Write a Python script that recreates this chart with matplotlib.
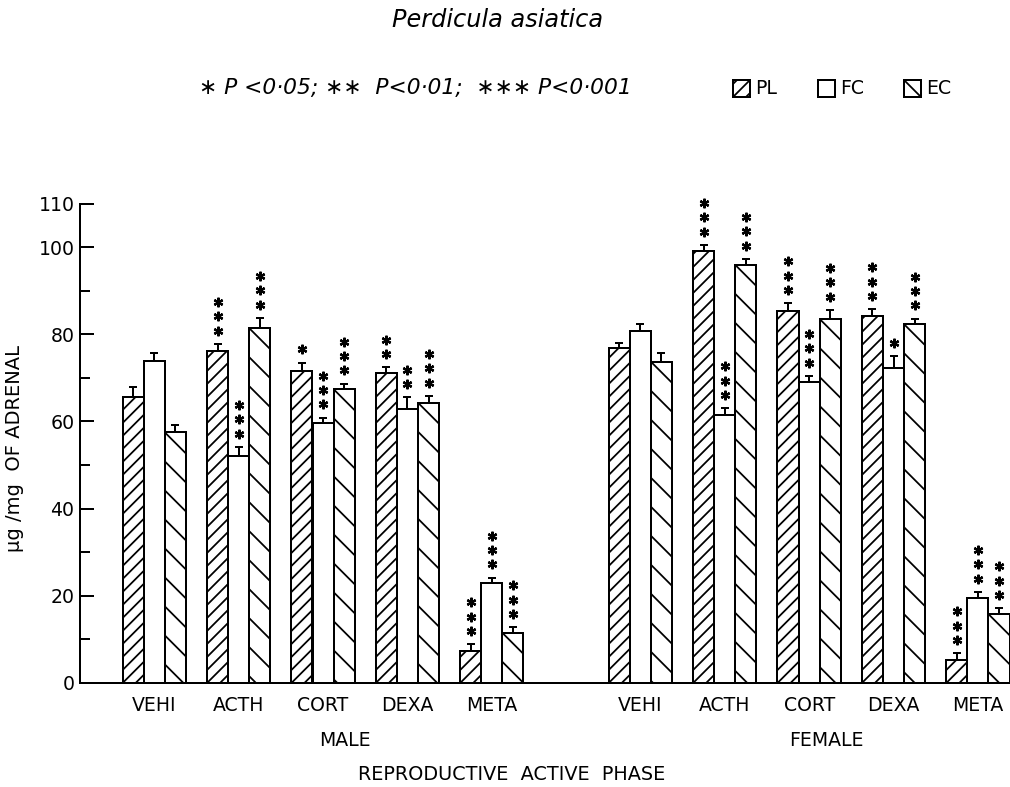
import numpy as np
import matplotlib
matplotlib.use("Agg")
import matplotlib.pyplot as plt
from matplotlib.patches import Rectangle
from matplotlib.transforms import offset_copy, IdentityTransform
from matplotlib.collections import LineCollection

# ---------------- data ----------------
treatments = ["VEHI", "ACTH", "CORT", "DEXA", "META"]
series = ["PL", "FC", "EC"]

male_PL = [65.7, 76.1, 71.6, 71.2, 7.4]
male_FC = [73.9, 52.1, 59.6, 62.8, 22.9]
male_EC = [57.5, 81.4, 67.4, 64.3, 11.5]
male_PL_err = [2.3, 1.7, 1.9, 1.2, 1.5]
male_FC_err = [1.9, 2.1, 1.3, 2.7, 1.3]
male_EC_err = [1.7, 2.4, 1.3, 1.6, 1.3]
male_PL_stars = [0, 3, 1, 2, 3]
male_FC_stars = [0, 3, 3, 2, 3]
male_EC_stars = [0, 3, 3, 3, 3]

female_PL = [76.8, 99.2, 85.4, 84.2, 5.3]
female_FC = [80.7, 61.5, 69.1, 72.2, 19.4]
female_EC = [73.7, 95.9, 83.5, 82.3, 15.8]
female_PL_err = [1.1, 1.3, 1.7, 1.5, 1.5]
female_FC_err = [1.6, 1.5, 1.4, 2.8, 1.5]
female_EC_err = [1.9, 1.4, 2.1, 1.3, 1.3]
female_PL_stars = [0, 3, 3, 3, 3]
female_FC_stars = [0, 3, 3, 1, 3]
female_EC_stars = [0, 3, 3, 3, 3]

yticks_major = [0, 20, 40, 60, 80, 100, 110]
yticks_minor = [10, 30, 50, 70, 90]

# ---------------- figure ----------------
DPI = 160
plt.rcParams["font.family"] = ["DejaVu Sans"]

W, H = 1010, 787
fig = plt.figure(figsize=(W / DPI, H / DPI), dpi=DPI)
ax = fig.add_axes([80 / W, 104 / H, (W - 80) / W, (683 - 203.5) / H])
ax.set_xlim(-0.88, 10.14)
ax.set_ylim(0, 110)

bw = 0.25
male_x = np.arange(5, dtype=float)
female_x = np.arange(5, dtype=float) + 5.76
hatch_kind = ["asc", None, "desc"]
hatch_space = [13.0, None, 29.0]   # vertical spacing of hatch lines, pixels


def add_hatch(patch, kind, spacing, in_axes):
    tr = patch.get_data_transform()
    x, y = patch.get_x(), patch.get_y()
    w, h = patch.get_width(), patch.get_height()
    (X0, Y0), (X1, Y1) = tr.transform([(x, y), (x + w, y + h)])
    segs = []
    if kind == "asc":
        c0 = Y0 - X0
        kmin = int(np.floor(((Y0 - X1) - c0) / spacing)) - 1
        kmax = int(np.ceil(((Y1 - X0) - c0) / spacing)) + 1
        for k in range(kmin, kmax + 1):
            c = c0 + k * spacing
            segs.append([(X0 - 2, X0 - 2 + c), (X1 + 2, X1 + 2 + c)])
    else:
        c0 = Y1 + X0
        kmin = int(np.floor(((Y0 + X0) - c0) / spacing)) - 1
        kmax = int(np.ceil(((Y1 + X1) - c0) / spacing)) + 1
        for k in range(kmin, kmax + 1):
            c = c0 + k * spacing
            segs.append([(X0 - 2, c - (X0 - 2)), (X1 + 2, c - (X1 + 2))])
    lc = LineCollection(segs, colors="black", linewidths=0.8,
                        transform=IdentityTransform(), zorder=patch.get_zorder() + 0.1)
    if in_axes:
        ax.add_collection(lc, autolim=False)
    else:
        fig.add_artist(lc)
    lc.set_clip_on(True)
    lc.set_clip_path(patch)


groups = [
    (male_x, [male_PL, male_FC, male_EC], [male_PL_err, male_FC_err, male_EC_err],
     [male_PL_stars, male_FC_stars, male_EC_stars]),
    (female_x, [female_PL, female_FC, female_EC], [female_PL_err, female_FC_err, female_EC_err],
     [female_PL_stars, female_FC_stars, female_EC_stars]),
]

star_tr = [offset_copy(ax.transData, fig=fig, x=0, y=5.9 + 6.5 * k, units="points") for k in range(3)]

for xs, vals, errs, stars in groups:
    for j in range(3):
        xpos = xs + (j - 1) * bw
        bars = ax.bar(xpos, vals[j], width=bw, facecolor="white", edgecolor="black",
                      linewidth=0.9, zorder=2)
        if hatch_kind[j]:
            for p in bars.patches:
                add_hatch(p, hatch_kind[j], hatch_space[j], True)
        ax.errorbar(xpos, vals[j], yerr=[np.zeros(5), errs[j]], fmt="none",
                    ecolor="black", elinewidth=0.9, capsize=1.8, capthick=0.9, zorder=3)
        for i in range(5):
            top = vals[j][i] + errs[j][i]
            for k in range(stars[j][i]):
                ax.plot([xpos[i]], [top], marker=(6, 2, 0), markersize=4.3,
                        markeredgewidth=1.0, color="black", transform=star_tr[k],
                        clip_on=False, zorder=4)

for s in ["top", "right"]:
    ax.spines[s].set_visible(False)
ax.spines["left"].set_linewidth(0.9)
ax.spines["bottom"].set_linewidth(0.9)

ax.set_yticks(yticks_major)
ax.set_yticklabels([str(v) for v in yticks_major], fontsize=8.5)
ax.set_yticks(yticks_minor, minor=True)
ax.tick_params(axis="y", which="major", direction="in", length=6.5, width=0.9, pad=2.5)
ax.tick_params(axis="y", which="minor", direction="in", length=4.5, width=0.9)

ax.set_xticks(np.concatenate([male_x, female_x]))
ax.set_xticklabels(treatments + treatments, fontsize=8.5)
ax.tick_params(axis="x", which="both", length=0, pad=6)

ax.set_ylabel("μg /mg  OF ADRENAL", fontsize=8.8)
ax.yaxis.set_label_coords(-0.060, 0.49)

# group labels
fig.text(345 / W, 1 - 741 / H, "MALE", ha="center", va="center", fontsize=8.5)
fig.text(826 / W, 1 - 741 / H, "FEMALE", ha="center", va="center", fontsize=8.5)
fig.text(512 / W, 1 - 775 / H, "REPRODUCTIVE  ACTIVE  PHASE", ha="center", va="center", fontsize=8.7)

# title and significance
fig.text(498 / W, 1 - 20 / H, "Perdicula asiatica", ha="center", va="center",
         fontsize=10.8, style="italic")
fig.text(415 / W, 1 - 88 / H, "∗ P <0·05; ∗∗  P<0·01;  ∗∗∗ P<0·001", ha="center", va="center",
         fontsize=9.8, style="italic")

# legend
leg_boxes = [733, 818, 904]
for name, kind, sp, bx in zip(series, hatch_kind, hatch_space, leg_boxes):
    r = Rectangle((bx / W, 1 - 97 / H), 17 / W, 17 / H, transform=fig.transFigure,
                  facecolor="white", edgecolor="black", linewidth=0.9, zorder=2)
    fig.add_artist(r)
    if kind:
        add_hatch(r, kind, sp, False)
    fig.text((bx + 22) / W, 1 - 88.5 / H, name, ha="left", va="center", fontsize=8.5)

fig.savefig("out.png", dpi=DPI)
